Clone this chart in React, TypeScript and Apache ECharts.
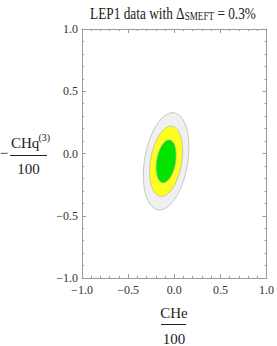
import React, { useEffect, useRef } from "react";
import * as echarts from "echarts";

// Tick labels
const tickValues = [-1.0, -0.5, 0.0, 0.5, 1.0];
// Fit result: centre of the Gaussian likelihood (CHe/100, -CHq3/100)
const center = [-0.088, -0.063];
// Standard deviations and correlation
const sigma = [0.0718, 0.1135];
const rho = 0.29;
// Delta chi^2 levels for 68%, 95%, 99.7% in 2D (outer first)
const levels = [11.83, 6.18, 2.3];
const fills = ["#f0f0f0", "#ffff1e", "#00e400"];

const fmt = (v: number) => (v < 0 ? "\u2212" + Math.abs(v).toFixed(1) : v.toFixed(1));

const FONT = "Liberation Serif";

export default function App() {
  const ref = useRef<HTMLDivElement>(null);
  useEffect(() => {
    if (!ref.current) return;
    const chart = echarts.init(ref.current, undefined, { renderer: "svg" });
    const axisCommon = {
      type: "value" as const,
      min: tickValues[0],
      max: tickValues[tickValues.length - 1],
      interval: 0.5,
      splitLine: { show: false },
      axisLine: { show: true, onZero: false, lineStyle: { color: "#9a9a9a", width: 1 } },
      axisTick: { show: true, inside: true, length: 4, lineStyle: { color: "#9a9a9a" } },
      minorTick: { show: true, splitNumber: 5, length: 2, lineStyle: { color: "#9a9a9a" } },
    };
    const labelCommon = {
      show: true,
      color: "#333",
      fontFamily: FONT,
      fontSize: 12,
      formatter: (v: number) => fmt(v),
    };
    const L11 = sigma[0];
    const L21 = rho * sigma[1];
    const L22 = sigma[1] * Math.sqrt(1 - rho * rho);
    chart.setOption({
      animation: false,
      grid: { left: 82, top: 29, width: 186, height: 249, containLabel: false },
      xAxis: [
        { ...axisCommon, position: "bottom", axisLabel: { ...labelCommon, margin: 6 } },
        { ...axisCommon, position: "top", axisLabel: { show: false } },
      ],
      yAxis: [
        { ...axisCommon, position: "left", axisLabel: { ...labelCommon, margin: 4 } },
        { ...axisCommon, position: "right", axisLabel: { show: false } },
      ],
      series: [
        {
          type: "custom",
          coordinateSystem: "cartesian2d",
          xAxisIndex: 0,
          yAxisIndex: 0,
          clip: true,
          data: levels.map((k) => [center[0], center[1], k]),
          renderItem: (params: any, api: any) => {
            const k = levels[params.dataIndex];
            const r = Math.sqrt(k);
            const pts: number[][] = [];
            for (let j = 0; j < 120; j++) {
              const t = (j / 120) * Math.PI * 2;
              const u = Math.cos(t), w = Math.sin(t);
              const dx = r * L11 * u;
              const dy = r * (L21 * u + L22 * w);
              pts.push(api.coord([center[0] + dx, center[1] + dy]));
            }
            return {
              type: "polygon",
              shape: { points: pts },
              style: { fill: fills[params.dataIndex], stroke: "#b8b8b8", lineWidth: 0.8 },
            };
          },
        },
      ],
      graphic: [
        {
          type: "text",
          x: 173,
          y: 2,
          scaleX: 0.76,
          style: {
            text: "{n|LEP1 data with \u0394}{s|SMEFT}{n| = 0.3%}",
            textAlign: "center",
            fill: "#222",
            rich: {
              n: { fontFamily: FONT, fontSize: 17.5, lineHeight: 20, verticalAlign: "bottom", fill: "#222" },
              s: { fontFamily: FONT, fontSize: 12, lineHeight: 14, verticalAlign: "bottom", fill: "#222" },
            },
          },
        },
        // y-axis label: -CHq^(3)/100
        { type: "text", x: 4, y: 153, style: { text: "\u2212", fontFamily: FONT, fontSize: 15, textAlign: "center", textVerticalAlign: "middle", fill: "#222" } },
        { type: "text", x: 11, y: 143, style: { text: "CHq", fontFamily: FONT, fontSize: 15, textAlign: "left", textVerticalAlign: "middle", fill: "#222" } },
        { type: "text", x: 38.5, y: 137.5, style: { text: "(3)", fontFamily: FONT, fontSize: 10, textAlign: "left", textVerticalAlign: "middle", fill: "#222" } },
        { type: "line", shape: { x1: 10, y1: 155.5, x2: 47, y2: 155.5 }, style: { stroke: "#222", lineWidth: 1 } },
        { type: "text", x: 28.5, y: 169, style: { text: "100", fontFamily: FONT, fontSize: 15, textAlign: "center", textVerticalAlign: "middle", fill: "#222" } },
        // x-axis label: CHe/100
        { type: "text", x: 174, y: 313, style: { text: "CHe", fontFamily: FONT, fontSize: 15, textAlign: "center", textVerticalAlign: "middle", fill: "#222" } },
        { type: "line", shape: { x1: 161, y1: 324.5, x2: 186, y2: 324.5 }, style: { stroke: "#222", lineWidth: 1 } },
        { type: "text", x: 174, y: 339, style: { text: "100", fontFamily: FONT, fontSize: 15, textAlign: "center", textVerticalAlign: "middle", fill: "#222" } },
      ],
    });
    return () => chart.dispose();
  }, []);
  return <div ref={ref} style={{ width: 277, height: 346, position: "absolute", left: 0, top: 0 }} />;
}
